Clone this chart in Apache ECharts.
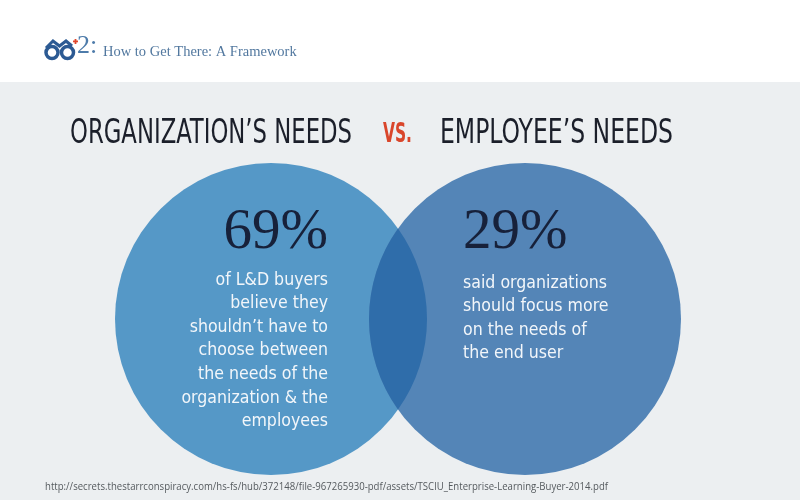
<!DOCTYPE html>
<html><head><meta charset="utf-8">
<script src="https://cdn.jsdelivr.net/npm/echarts@6/dist/echarts.min.js"></script>
<style>html,body{margin:0;padding:0;background:#fff}#c{width:800px;height:500px}</style>
</head><body><div id="c"></div>
<script>
// ---- data ----
const setNames = ['ORGANIZATION’S NEEDS', 'EMPLOYEE’S NEEDS'];
const versusLabel = 'VS.';
const setPercents = [69, 29];
const setDescriptions = [
  ['of L&D buyers', 'believe they', 'shouldn’t have to', 'choose between', 'the needs of the', 'organization & the', 'employees'],
  ['said organizations', 'should focus more', 'on the needs of', 'the end user']
];
const headerTitle = 'How to Get There: A Framework';
const chapterNumber = '2:';
const sourceUrl = 'http://secrets.thestarrconspiracy.com/hs-fs/hub/372148/file-967265930-pdf/assets/TSCIU_Enterprise-Learning-Buyer-2014.pdf';

// ---- layout / style (axis units = pixels) ----
const circleLayout = [
  { cx: 271, cy: 319, r: 156, color: '#5598C7', pctX: 328, pctY: 233, align: 'right', textX: 328, textY: 268 },
  { cx: 525, cy: 319, r: 156, color: '#5485B7', pctX: 463, pctY: 233, align: 'left', textX: 463, textY: 271 }
];
const overlapColor = '#2F6DAA';
const headingLayout = [ { x: 70, y: 134, w: 282 }, { x: 440, y: 134, w: 233 } ];
const condensed = "'DejaVu Sans Condensed','Liberation Sans Narrow',Roboto,sans-serif";
const bodyFont = "'DejaVu Sans Condensed','Liberation Sans Narrow',Roboto,sans-serif";
const serif = "'Liberation Serif','DejaVu Serif',serif";
const headingFont = '34px ' + condensed;
const vsFont = 'bold 27px ' + condensed;

const measureCtx = document.createElement('canvas').getContext('2d');
function fitScale(text, font, width) {
  measureCtx.font = font;
  return width / measureCtx.measureText(text).width;
}

const chart = echarts.init(document.getElementById('c'), null, { renderer: 'canvas' });

function renderSet(params, api) {
  const i = api.value(0);
  const L = circleLayout[i];
  const H = headingLayout[i];
  const c = api.coord([L.cx, L.cy]);
  const r = api.size([L.r, L.r])[0];
  const pc = api.coord([L.pctX, L.pctY]);
  const tc = api.coord([L.textX, L.textY]);
  const hc = api.coord([H.x, H.y]);
  return {
    type: 'group',
    children: [
      { type: 'circle', shape: { cx: c[0], cy: c[1], r: r }, style: { fill: L.color } },
      { type: 'text', z2: 10, style: { x: pc[0], y: pc[1], text: api.value(1) + '%', fill: '#17213A',
          font: '57px ' + serif, align: L.align, verticalAlign: 'middle' } },
      { type: 'text', z2: 10, x: tc[0], y: tc[1], scaleX: 0.95, style: { x: 0, y: 0, text: setDescriptions[i].join('\n'), fill: '#F2F6FA',
          font: '18.5px ' + bodyFont, lineHeight: 23.6, align: L.align, verticalAlign: 'top' } },
      { type: 'text', z2: 10, x: hc[0], y: hc[1], scaleX: fitScale(setNames[i], headingFont, H.w),
          style: { x: 0, y: 0, text: setNames[i], fill: '#1B1F2A', font: headingFont, align: 'left', verticalAlign: 'middle' } }
    ]
  };
}

function renderOverlap(params, api) {
  const A = circleLayout[api.value(0)], B = circleLayout[api.value(1)];
  const c1 = api.coord([A.cx, A.cy]), c2 = api.coord([B.cx, B.cy]);
  const r1 = api.size([A.r, A.r])[0], r2 = api.size([B.r, B.r])[0];
  const d = c2[0] - c1[0];
  const a = (r1 * r1 - r2 * r2 + d * d) / (2 * d);
  const h = Math.sqrt(r1 * r1 - a * a);
  const px = c1[0] + a, top = c1[1] - h, bot = c1[1] + h;
  const path = `M${px} ${top} A${r2} ${r2} 0 0 0 ${px} ${bot} A${r1} ${r1} 0 0 0 ${px} ${top} Z`;
  return { type: 'path', shape: { pathData: path }, style: { fill: overlapColor } };
}

chart.setOption({
  animation: false,
  grid: { left: 0, right: 0, top: 0, bottom: 0 },
  xAxis: { type: 'value', min: 0, max: 800, show: false },
  yAxis: { type: 'value', min: 0, max: 500, inverse: true, show: false },
  graphic: [
    { type: 'rect', z: -10, shape: { x: 0, y: 82, width: 800, height: 418 }, style: { fill: '#ECEFF1' } },
    // logo (glasses + spark)
    { type: 'circle', shape: { cx: 52, cy: 52.5, r: 6 }, style: { fill: 'none', stroke: '#2C5A93', lineWidth: 3.5 } },
    { type: 'circle', shape: { cx: 67.5, cy: 52.5, r: 6 }, style: { fill: 'none', stroke: '#2C5A93', lineWidth: 3.5 } },
    { type: 'polyline', shape: { points: [[46, 48], [53, 41], [59.5, 46], [66, 41], [72, 46]] }, style: { fill: 'none', stroke: '#2C5A93', lineWidth: 3 } },
    { type: 'rect', shape: { x: 73, y: 40.5, width: 5, height: 1.8 }, style: { fill: '#E0472C' } },
    { type: 'rect', shape: { x: 74.6, y: 39, width: 1.8, height: 5 }, style: { fill: '#E0472C' } },
    { type: 'text', style: { x: 77, y: 59, text: chapterNumber, fill: '#4D7BAA', font: '26px ' + serif, verticalAlign: 'bottom' } },
    { type: 'text', style: { x: 103, y: 52, text: headerTitle, fill: '#52789F', font: '14.5px ' + serif, verticalAlign: 'middle' } },
    { type: 'text', x: 383, y: 135, scaleX: fitScale(versusLabel, vsFont, 29),
      style: { x: 0, y: 0, text: versusLabel, fill: '#D9462B', font: vsFont, verticalAlign: 'middle' } },
    { type: 'text', x: 45, y: 487, scaleX: fitScale(sourceUrl, "10.5px 'Open Sans',sans-serif", 563),
      style: { x: 0, y: 0, text: sourceUrl, fill: '#555A5E', font: "10.5px 'Open Sans',sans-serif", verticalAlign: 'middle' } }
  ],
  series: [
    { type: 'custom', renderItem: renderSet, data: setPercents.map((p, i) => [i, p]), silent: true, z: 2 },
    { type: 'custom', renderItem: renderOverlap, data: [[0, 1]], silent: true, z: 3 }
  ]
});
</script></body></html>
